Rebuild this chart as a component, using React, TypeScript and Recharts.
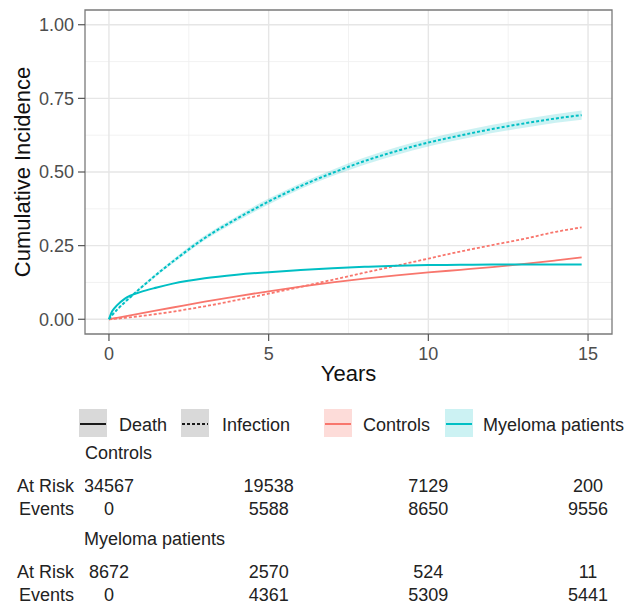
import React from 'react';
import { ComposedChart, Line, Area, Scatter, XAxis, YAxis, CartesianGrid, ReferenceArea } from 'recharts';

// follow-up time (years) and cumulative incidence
const years = [0, 0.1, 0.25, 0.5, 1, 1.5, 2, 3, 4, 5, 6, 7, 8, 9, 10, 11, 12, 13, 14, 14.8];
const controlsDeath = [0, 0.002, 0.005, 0.01, 0.02, 0.03, 0.04, 0.06, 0.078, 0.095, 0.111, 0.125, 0.138, 0.149, 0.159, 0.168, 0.177, 0.188, 0.2, 0.21];
const controlsInfection = [0, 0.001, 0.002, 0.005, 0.011, 0.018, 0.026, 0.044, 0.065, 0.087, 0.11, 0.134, 0.158, 0.182, 0.206, 0.23, 0.252, 0.273, 0.297, 0.312];
const myelomaDeath = [0, 0.027, 0.047, 0.07, 0.093, 0.108, 0.121, 0.139, 0.151, 0.16, 0.167, 0.173, 0.178, 0.182, 0.184, 0.185, 0.186, 0.186, 0.186, 0.186];
const myelomaInfection = [0, 0.014, 0.032, 0.058, 0.107, 0.153, 0.196, 0.276, 0.341, 0.4, 0.452, 0.497, 0.537, 0.571, 0.6, 0.624, 0.646, 0.665, 0.682, 0.693];
const myelomaInfectionLow = [0, 0.013, 0.03, 0.055, 0.102, 0.147, 0.189, 0.268, 0.332, 0.39, 0.442, 0.486, 0.525, 0.558, 0.587, 0.61, 0.632, 0.65, 0.667, 0.677];
const myelomaInfectionHigh = [0, 0.015, 0.034, 0.061, 0.112, 0.159, 0.203, 0.284, 0.35, 0.41, 0.462, 0.508, 0.549, 0.584, 0.613, 0.638, 0.66, 0.68, 0.697, 0.709];

const xTicks = [0, 5, 10, 15];
const xMinor = [2.5, 7.5, 12.5];
const yTicks = [0, 0.25, 0.5, 0.75, 1];
const yMinor = [0.125, 0.375, 0.625, 0.875];

// risk table
const riskTimes = [0, 5, 10, 15];
const controlsAtRisk = [34567, 19538, 7129, 200];
const controlsEvents = [0, 5588, 8650, 9556];
const myelomaAtRisk = [8672, 2570, 524, 11];
const myelomaEvents = [0, 4361, 5309, 5441];

const RED = '#F8766D';
const CYAN = '#00BFC4';
const FONT = '"Liberation Sans", Arial, sans-serif';
const X_DOMAIN: [number, number] = [-0.75, 15.75];

const chartData = years.map((t, i) => ({
  t,
  cd: controlsDeath[i],
  ci: controlsInfection[i],
  md: myelomaDeath[i],
  mi: myelomaInfection[i],
  band: [myelomaInfectionLow[i], myelomaInfectionHigh[i]],
}));

// baseline of each table row (page pixels)
const rowBaseline = { ctrlRisk: 492, ctrlEvents: 515, myeRisk: 578, myeEvents: 601 };

const tableRow = (values: number[], y: number) => riskTimes.map((t, i) => ({ t, y, n: values[i] }));

const TableCell = (props: any) => (
  <text x={props.cx} y={props.cy} textAnchor="middle" fontSize={18} fontFamily={FONT} fill="#222">
    {props.payload.n}
  </text>
);

export default function App() {
  return (
    <div style={{ position: 'absolute', left: 0, top: 0, width: 629, height: 605, background: '#fff' }}>
      <ComposedChart
        width={629}
        height={605}
        data={chartData}
        margin={{ top: 10, right: 17, bottom: 211, left: 0 }}
        style={{ position: 'absolute', left: 0, top: 0 }}
      >
        <CartesianGrid horizontalValues={yMinor} verticalValues={xMinor} stroke="#efefef" strokeWidth={0.8} />
        <CartesianGrid horizontalValues={yTicks} verticalValues={xTicks} stroke="#e6e6e6" strokeWidth={1.4} />
        <XAxis
          dataKey="t"
          type="number"
          domain={X_DOMAIN}
          ticks={xTicks}
          allowDataOverflow
          height={60}
          axisLine={false}
          tickLine={{ stroke: '#555', strokeWidth: 1.2 }}
          tickSize={7}
          tickMargin={6}
          tick={{ fill: '#4d4d4d', fontSize: 18, fontFamily: FONT }}
        />
        <YAxis
          type="number"
          domain={[-0.05, 1.05]}
          ticks={yTicks}
          allowDataOverflow
          width={85}
          axisLine={false}
          tickLine={{ stroke: '#555', strokeWidth: 1.2 }}
          tickSize={7}
          tickMargin={4}
          tickFormatter={(v: number) => v.toFixed(2)}
          tick={{ fill: '#4d4d4d', fontSize: 18, fontFamily: FONT }}
        />
        <Area dataKey="band" type="monotone" stroke="none" fill={CYAN} fillOpacity={0.2} isAnimationActive={false} />
        <Line dataKey="cd" type="monotone" stroke={RED} strokeWidth={1.8} dot={false} isAnimationActive={false} />
        <Line dataKey="ci" type="monotone" stroke={RED} strokeWidth={1.8} strokeDasharray="3 2" dot={false} isAnimationActive={false} />
        <Line dataKey="md" type="monotone" stroke={CYAN} strokeWidth={2} dot={false} isAnimationActive={false} />
        <Line dataKey="mi" type="monotone" stroke={CYAN} strokeWidth={2} strokeDasharray="3 2" dot={false} isAnimationActive={false} />
        <ReferenceArea x1={X_DOMAIN[0]} x2={X_DOMAIN[1]} y1={-0.05} y2={1.05} fill="none" stroke="#7a7a7a" strokeWidth={1.3} ifOverflow="visible" />
      </ComposedChart>

      <ComposedChart
        width={629}
        height={605}
        margin={{ top: 0, right: 17, bottom: 0, left: 85 }}
        style={{ position: 'absolute', left: 0, top: 0 }}
      >
        <XAxis dataKey="t" type="number" domain={X_DOMAIN} hide allowDataOverflow />
        <YAxis dataKey="y" type="number" domain={[0, 605]} reversed hide allowDataOverflow />
        <Scatter data={tableRow(controlsAtRisk, rowBaseline.ctrlRisk)} shape={TableCell} isAnimationActive={false} />
        <Scatter data={tableRow(controlsEvents, rowBaseline.ctrlEvents)} shape={TableCell} isAnimationActive={false} />
        <Scatter data={tableRow(myelomaAtRisk, rowBaseline.myeRisk)} shape={TableCell} isAnimationActive={false} />
        <Scatter data={tableRow(myelomaEvents, rowBaseline.myeEvents)} shape={TableCell} isAnimationActive={false} />
      </ComposedChart>

      <svg width={629} height={605} style={{ position: 'absolute', left: 0, top: 0, pointerEvents: 'none' }} fontFamily={FONT}>
        <text transform="translate(30,172) rotate(-90)" textAnchor="middle" fontSize={22} fill="#111">Cumulative Incidence</text>
        <text x={348.5} y={381} textAnchor="middle" fontSize={22} fill="#111">Years</text>

        {/* legend */}
        <rect x={79} y={409} width={28} height={28} fill="#d9d9d9" />
        <line x1={80} x2={106} y1={424} y2={424} stroke="#1a1a1a" strokeWidth={2} />
        <text x={119} y={431} fontSize={18} fill="#222">Death</text>
        <rect x={181} y={409} width={28} height={28} fill="#d9d9d9" />
        <line x1={182} x2={208} y1={424} y2={424} stroke="#1a1a1a" strokeWidth={2} strokeDasharray="3 2" />
        <text x={222} y={431} fontSize={18} fill="#222">Infection</text>
        <rect x={324} y={409} width={28} height={28} fill="#fddcd9" />
        <line x1={325} x2={351} y1={424} y2={424} stroke={RED} strokeWidth={2} />
        <text x={363} y={431} fontSize={18} fill="#222">Controls</text>
        <rect x={445} y={409} width={28} height={28} fill="#ccf2f3" />
        <line x1={446} x2={472} y1={424} y2={424} stroke={CYAN} strokeWidth={2} />
        <text x={483} y={431} fontSize={18} fill="#222">Myeloma patients</text>

        {/* risk table labels */}
        <text x={85} y={459} fontSize={18} fill="#222">Controls</text>
        <text x={74} y={rowBaseline.ctrlRisk} textAnchor="end" fontSize={18} fill="#222">At Risk</text>
        <text x={74} y={rowBaseline.ctrlEvents} textAnchor="end" fontSize={18} fill="#222">Events</text>
        <text x={84} y={545} fontSize={18} fill="#222">Myeloma patients</text>
        <text x={74} y={rowBaseline.myeRisk} textAnchor="end" fontSize={18} fill="#222">At Risk</text>
        <text x={74} y={rowBaseline.myeEvents} textAnchor="end" fontSize={18} fill="#222">Events</text>
      </svg>
    </div>
  );
}
